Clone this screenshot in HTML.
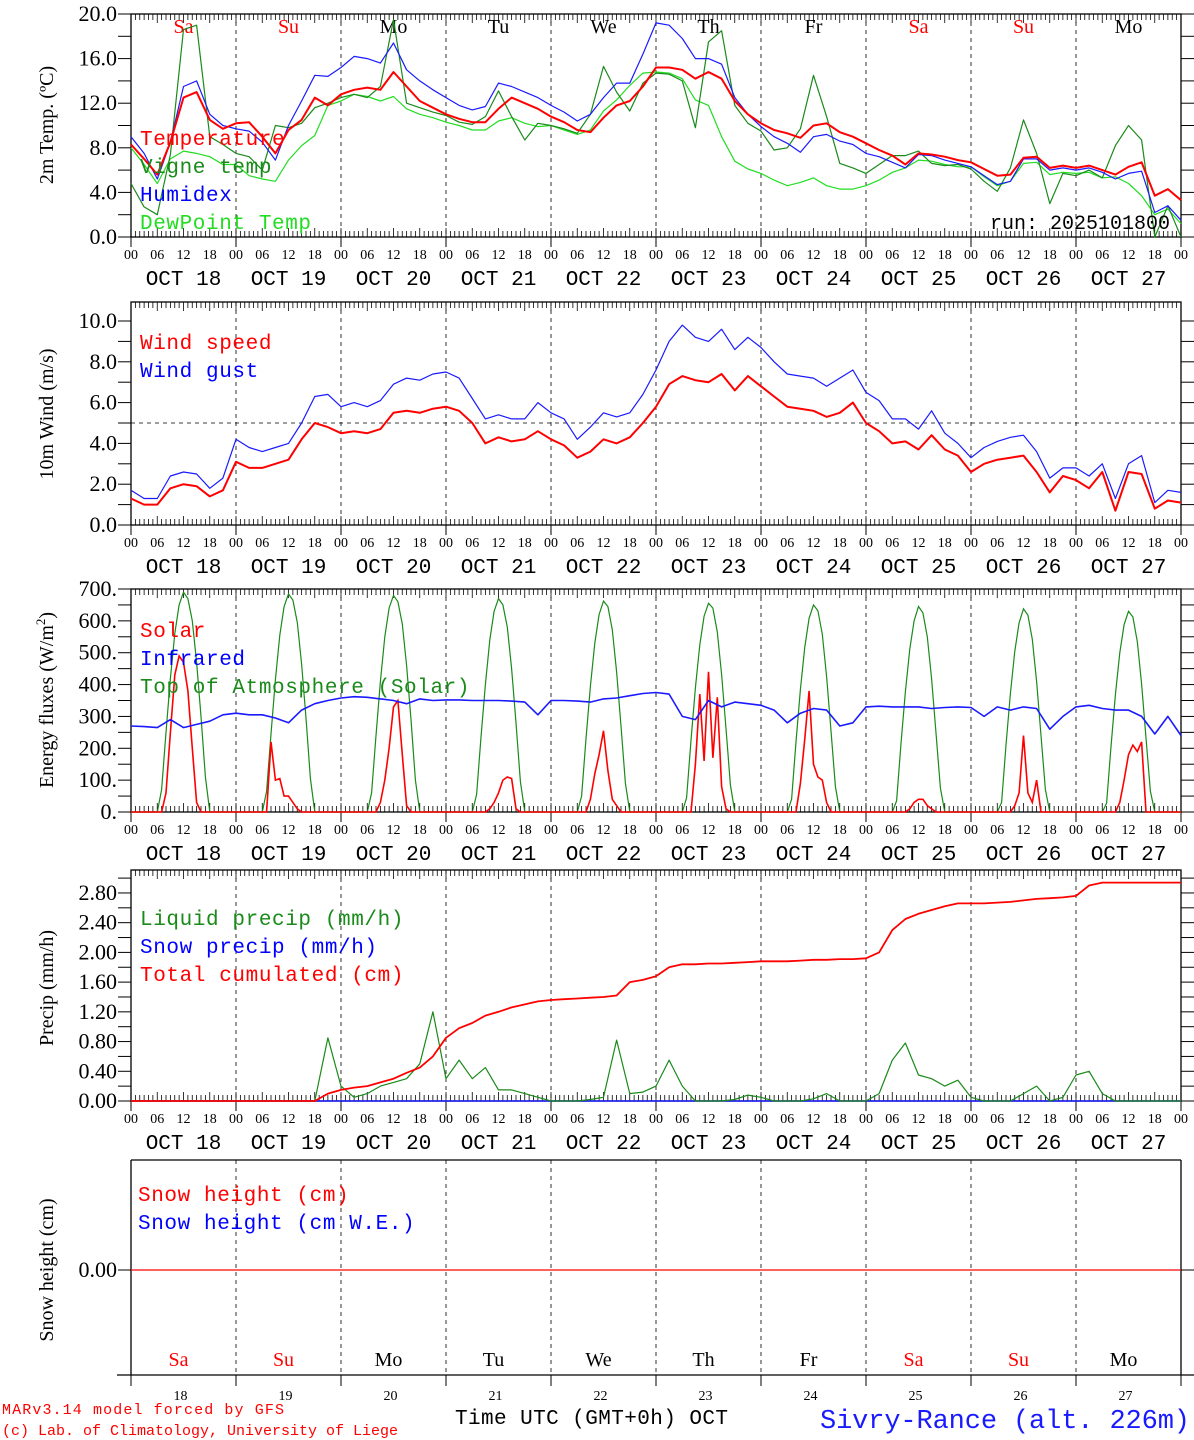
<!DOCTYPE html>
<html><head><meta charset="utf-8"><style>
html,body{margin:0;padding:0;background:#fff}
svg{display:block}
text{font-family:"Liberation Serif",serif}
.m{font-family:"Liberation Mono",monospace}
</style></head><body>
<svg id="c" width="1194" height="1440" viewBox="0 0 1194 1440" xmlns="http://www.w3.org/2000/svg"></svg>
<script>
// ---- data (3-hourly from Oct 18 00 UTC to Oct 28 00 UTC, 81 points) ----
const days = ["18","19","20","21","22","23","24","25","26","27"];
const dayNames = ["Sa","Su","Mo","Tu","We","Th","Fr","Sa","Su","Mo"];
const dayColors = ["#f00","#f00","#000","#000","#000","#000","#000","#f00","#f00","#000"];
const hourLabels = ["00","06","12","18"];
const tempVals = [8.3,7,5.6,8.5,12.5,13,10.5,9.7, 10.2,10.3,9,7.5,9.6,10.5,12.5,11.8, 12.8,13.2,13.4,13.2,14.8,13.5,12.2,11.6, 11,10.6,10.3,10.3,11.5,12.5,12,11.5, 10.8,10.3,9.6,9.4,10.7,11.8,12.2,13.5, 15.2,15.2,15,14.2,14.8,14.2,12.2,11, 10.2,9.6,9.3,8.9,10,10.2,9.4,9, 8.4,7.8,7.3,6.5,7.5,7.4,7.2,6.9, 6.7,6.1,5.5,5.6,7.1,7.2,6.2,6.4, 6.2,6.4,6,5.6,6.3,6.7,3.7,4.3, 3.3];
const humidexVals = [9,7.5,5.2,8.5,13.5,14,11,10, 9.7,9.5,8.5,6.9,10,12.2,14.5,14.4, 15.2,16.2,16,15.6,17.4,15,14,13.2, 12.5,11.8,11.4,11.7,13.8,13.5,13,12.5, 11.8,11.2,10.4,11,12.5,13.8,13.8,16.4, 19.2,19,17.8,16,16,15.5,12.5,11, 9.9,9,8.4,7.6,9,9.2,8.6,8.3, 7.5,7.2,6.7,6.2,7.4,7.3,6.9,6.6, 6.3,5.5,4.7,5,7,7,6,6.2, 6,6.2,5.8,5.2,5.7,5.9,2.2,2.8, 1.5];
const dewVals = [8,6.5,4.8,7,7.7,7.5,7.2,6.5, 6.5,5.5,5.2,5,6.9,8.2,9.1,11.8, 12.2,12.8,12.6,12.2,12.6,11.5,11,10.7, 10.3,10,9.6,9.6,10.4,10.7,10.2,9.9, 10,9.6,9.2,9.6,11.3,12.3,13.6,14.7, 14.8,14.7,14.2,12.3,11.8,9,6.8,6.1, 5.7,5.1,4.6,4.9,5.3,4.6,4.3,4.3, 4.6,5.1,5.8,6.2,6.9,6.8,6.5,6.3, 6.3,5.4,4.6,5,6.6,6.7,5.6,5.8, 5.7,5.8,5.3,5.4,4.8,3.7,2,2.5, 1.2];
const vigneVals = [4.8,2.7,2,7.4,18.6,19,9,8.3, 7.5,7.2,6,10,9.8,10.2,11.6,12, 12.5,12.8,12.5,13.5,19.5,12,11.6,11.2, 10.9,10.3,10.1,10.8,13.1,10.8,8.7,10.2, 10,9.7,9.3,11,15.3,13,11.3,13.8, 14.7,14.6,14,9.8,17.5,18.5,11.8,10.2, 9.5,7.8,8,9.7,14.5,10.8,6.6,6.2, 5.7,6.5,7.3,7.3,7.7,6.6,6.4,6.5, 6.1,5,4.1,6.2,10.5,7.5,3,5.7, 5.5,6,5.3,8.2,10,8.7,0,2.8, 0];
const windVals = [1.3,1,1,1.8,2,1.9,1.4,1.7, 3.1,2.8,2.8,3,3.2,4.2,5,4.8, 4.5,4.6,4.5,4.7,5.5,5.6,5.5,5.7, 5.8,5.6,5,4,4.3,4.1,4.2,4.6, 4.2,3.9,3.3,3.6,4.2,4,4.3,5, 5.8,6.9,7.3,7.1,7,7.4,6.6,7.3, 6.8,6.3,5.8,5.7,5.6,5.3,5.5,6, 5,4.6,4,4.1,3.7,4.4,3.7,3.4, 2.6,3,3.2,3.3,3.4,2.6,1.6,2.4, 2.2,1.8,2.6,0.7,2.6,2.5,0.8,1.2, 1.1];
const gustVals = [1.7,1.3,1.3,2.4,2.6,2.5,1.8,2.3, 4.2,3.8,3.6,3.8,4,5,6.3,6.4, 5.8,6,5.8,6.1,6.9,7.2,7.1,7.4, 7.5,7.2,6.2,5.2,5.4,5.2,5.2,6, 5.5,5.2,4.2,4.8,5.5,5.3,5.5,6.4, 7.6,9,9.8,9.2,9,9.6,8.6,9.2, 8.7,8,7.4,7.3,7.2,6.8,7.2,7.6, 6.5,6.1,5.2,5.2,4.7,5.6,4.5,4, 3.3,3.8,4.1,4.3,4.4,3.6,2.3,2.8, 2.8,2.4,3,1.3,3,3.4,1.1,1.7, 1.6];
const irVals = [270,268,265,290,265,275,285,305, 310,305,305,295,280,320,340,350, 358,362,360,355,350,340,355,350, 352,352,350,350,350,348,345,305, 350,350,348,345,355,358,365,372, 375,370,300,290,350,330,345,340, 335,320,280,310,325,320,270,280, 330,332,330,330,330,325,328,330, 328,300,330,320,330,325,260,300, 330,335,325,320,320,300,245,300, 240];
const liquidVals = [0,0,0,0,0,0,0,0, 0,0,0,0,0,0,0,0.85, 0.2,0.05,0.1,0.2,0.25,0.3,0.5,1.2, 0.3,0.55,0.3,0.45,0.15,0.15,0.1,0.05, 0,0,0,0.02,0.05,0.82,0.1,0.12, 0.2,0.55,0.2,0,0,0,0.02,0.08, 0.05,0,0,0,0.03,0.1,0,0, 0,0.1,0.55,0.78,0.35,0.3,0.2,0.28, 0.05,0,0,0,0.1,0.2,0,0.05, 0.35,0.4,0.1,0,0,0,0,0, 0];
const cumulVals = [0,0,0,0,0,0,0,0, 0,0,0,0,0,0,0,0.1, 0.15,0.18,0.2,0.25,0.3,0.38,0.45,0.6, 0.85,0.98,1.05,1.15,1.2,1.26,1.3,1.34, 1.36,1.37,1.38,1.39,1.4,1.42,1.6,1.63, 1.68,1.8,1.84,1.84,1.85,1.85,1.86,1.87, 1.88,1.88,1.88,1.89,1.9,1.9,1.91,1.91, 1.92,2.0,2.3,2.45,2.52,2.57,2.62,2.66, 2.66,2.66,2.67,2.68,2.7,2.72,2.73,2.74, 2.76,2.9,2.94,2.94,2.94,2.94,2.94,2.94, 2.94];
// hourly daytime arrays (hours 06..18) for each day
const toaDay = [
[0,70,250,420,560,650,690,670,600,470,300,110,0],
[0,65,245,415,555,645,685,665,595,465,295,105,0],
[0,60,240,410,550,640,680,660,590,460,290,100,0],
[0,55,235,400,540,630,670,650,580,450,280,95,0],
[0,50,230,395,530,620,662,645,572,440,270,90,0],
[0,45,225,390,525,615,655,640,565,432,262,85,0],
[0,40,220,385,518,608,650,632,558,425,255,80,0],
[0,35,215,378,512,600,645,625,550,418,248,75,0],
[0,30,210,372,505,594,638,618,542,410,240,70,0],
[0,28,205,368,500,588,630,612,535,402,232,65,0]];
const solarDay = [
[0,0,60,250,430,490,470,380,200,30,0,0,0],
[0,0,220,100,105,50,50,30,10,0,0,0,0],
[0,0,0,30,100,200,330,350,180,20,0,0,0],
[0,0,0,0,10,30,60,100,110,105,10,0,0],
[0,0,0,40,120,180,255,130,40,20,0,0,0],
[0,0,0,150,370,160,440,170,360,80,10,0,0],
[0,0,0,90,230,380,150,110,100,30,0,0,0],
[0,0,0,0,10,30,40,40,20,10,0,0,0],
[0,0,0,0,20,60,240,60,30,100,0,0,0],
[0,0,0,0,30,100,180,210,190,220,0,0,0]];
const snowHeight = [0,0];

// ---- layout ----
const X0=131, X1=1181, NS="http://www.w3.org/2000/svg";
const svg=document.getElementById('c');
const xAt=h=>X0+(X1-X0)*h/240;
function el(tag,attrs,parent){const e=document.createElementNS(NS,tag);for(const k in attrs)e.setAttribute(k,attrs[k]);(parent||svg).appendChild(e);return e;}
function txt(s,x,y,attrs,parent){const t=el('text',Object.assign({x:x,y:y},attrs),parent);t.textContent=s;return t;}
function panel(top,bottom,ymax,name){
  const g=el('g',{});
  
  
  return {g,top,bottom,y:v=>bottom-(bottom-top)*v/ymax};
}
function frame(p){
  el('rect',{x:X0,y:p.top,width:X1-X0,height:p.bottom-p.top,fill:'none',stroke:'#000','stroke-width':1.3},p.g);
  for(let d=1;d<10;d++){const x=xAt(d*24);el('line',{x1:x,x2:x,y1:p.top,y2:p.bottom,stroke:'#000','stroke-dasharray':'4,4','stroke-width':0.8},p.g);}
}
function hourTicks(p){
  for(let h=0;h<=240;h++){const x=xAt(h);const L=(h%6==0)?9:6;
    el('line',{x1:x,x2:x,y1:p.top,y2:p.top+L,stroke:'#000','stroke-width':0.8},p.g);
    el('line',{x1:x,x2:x,y1:p.bottom,y2:p.bottom-L,stroke:'#000','stroke-width':0.8},p.g);}
  for(let d=0;d<=10;d++){const x=xAt(d*24);el('line',{x1:x,x2:x,y1:p.bottom,y2:p.bottom+10,stroke:'#000'},p.g);}
}
function timeLabels(p){
  for(let d=0;d<10;d++){
    hourLabels.forEach((hl,i)=>{const t=txt(hl,xAt(d*24+i*6),p.bottom+22,{'font-size':14,'text-anchor':'middle'},p.g);
      });
    const t=txt('OCT '+days[d],xAt(d*24+12),p.bottom+48,{'font-size':21,'text-anchor':'middle','class':'m'},p.g);
    
  }
  txt('00',X1,p.bottom+22,{'font-size':14,'text-anchor':'middle'},p.g);
}
function yAxis(p,ticks,labels,minor,title,titleY){
  minor.concat(ticks).forEach(v=>{const y=p.y(v);el('line',{x1:X0-13,x2:X0,y1:y,y2:y,stroke:'#000'},p.g);el('line',{x1:X1,x2:X1+13,y1:y,y2:y,stroke:'#000'},p.g);});
  ticks.forEach((v,i)=>{const y=p.y(v);
    const t=txt(labels[i],X0-14,y+7,{'font-size':22,'text-anchor':'end'},p.g);
    });
  const t=txt(title,0,0,{'font-size':20,'text-anchor':'middle',transform:`translate(53,${titleY}) rotate(-90)`},p.g);
  
}
function line3h(p,vals,color,w,name){
  const pts=vals.map((v,i)=>xAt(i*3).toFixed(1)+','+p.y(v).toFixed(1)).join(' ');
  const l=el('polyline',{points:pts,fill:'none',stroke:color,'stroke-width':w,'stroke-linejoin':'round'},p.g);
  
}
function lineDay(p,arr,color,w,name){
  const pts=[];
  pts.push([xAt(0),p.y(0)]);
  arr.forEach((dv,d)=>dv.forEach((v,i)=>pts.push([xAt(d*24+6+i),p.y(v)])));
  pts.push([xAt(240),p.y(0)]);
  const l=el('polyline',{points:pts.map(q=>q[0].toFixed(1)+','+q[1].toFixed(1)).join(' '),fill:'none',stroke:color,'stroke-width':w},p.g);
  
}
function legend(p,items,x,y0,dy){
  items.forEach((it,i)=>{const t=txt(it[0],x,y0+i*dy,{'font-size':21,fill:it[1],'class':'m','letter-spacing':0.6},p.g);
    });
}

// Panel 1: temperature
const p1=panel(14,237,20,'temperature-panel');
frame(p1);hourTicks(p1);timeLabels(p1);
yAxis(p1,[0,4,8,12,16,20],["0.0","4.0","8.0","12.0","16.0","20.0"],[2,6,10,14,18],"2m Temp. (\u00BAC)",125);
for(let d=0;d<10;d++){const t=txt(dayNames[d],xAt(d*24+12),33,{'font-size':20,'text-anchor':'middle',fill:dayColors[d]},p1.g);}
line3h(p1,dewVals,'#22dd22',1.2,'dewpoint-line');
line3h(p1,vigneVals,'#1a8a1a',1.2,'vigne-temp-line');
line3h(p1,humidexVals,'#1a1aff',1.2,'humidex-line');
line3h(p1,tempVals,'#ff0000',2,'temperature-line');
legend(p1,[["Temperature","#f00"],["Vigne temp","#1a8a1a"],["Humidex","#00f"],["DewPoint Temp","#22dd22"]],140,145,28);
txt('run: 2025101800',990,229,{'font-size':20,'class':'m'},p1.g);

// Panel 2: wind
const p2=panel(302,525,223/20.4,'wind-panel');
frame(p2);hourTicks(p2);timeLabels(p2);
yAxis(p2,[0,2,4,6,8,10],["0.0","2.0","4.0","6.0","8.0","10.0"],[1,3,5,7,9],"10m Wind (m/s)",414);
el('line',{x1:X0,x2:X1,y1:p2.y(5),y2:p2.y(5),stroke:'#000','stroke-dasharray':'4,4','stroke-width':0.8},p2.g);
line3h(p2,gustVals,'#1a1aff',1.2,'wind-gust-line');
line3h(p2,windVals,'#ff0000',2,'wind-speed-line');
legend(p2,[["Wind speed","#f00"],["Wind gust","#00f"]],140,349,28);

// Panel 3: energy
const p3=panel(589,812,700,'energy-panel');
frame(p3);hourTicks(p3);timeLabels(p3);
yAxis(p3,[0,100,200,300,400,500,600,700],["0.","100.","200.","300.","400.","500.","600.","700."],[50,150,250,350,450,550,650],"",700);
{const t=el('text',{x:0,y:0,'font-size':20,'text-anchor':'middle',transform:'translate(53,700) rotate(-90)'},p3.g);t.innerHTML='Energy fluxes (W/m<tspan dy="-8" font-size="13">2</tspan><tspan dy="8">)</tspan>';}
lineDay(p3,toaDay,'#1a8a1a',1.2,'toa-solar-line');
lineDay(p3,solarDay,'#ff0000',1.6,'solar-line');
line3h(p3,irVals,'#1a1aff',1.6,'infrared-line');
legend(p3,[["Solar","#f00"],["Infrared","#00f"],["Top of Atmosphere (Solar)","#1a8a1a"]],140,637,28);

// Panel 4: precip
const p4=panel(870,1101,231/74.3,'precip-panel');
frame(p4);hourTicks(p4);timeLabels(p4);
yAxis(p4,[0,0.4,0.8,1.2,1.6,2.0,2.4,2.8],["0.00","0.40","0.80","1.20","1.60","2.00","2.40","2.80"],[0.2,0.6,1.0,1.4,1.8,2.2,2.6,3.0],"Precip (mm/h)",988);
el('line',{x1:X0,x2:X1,y1:p4.y(0),y2:p4.y(0),stroke:'#1a1aff','stroke-width':1.6,},p4.g);
line3h(p4,liquidVals,'#1a8a1a',1.2,'liquid-precip-line');
line3h(p4,cumulVals,'#ff0000',1.8,'cumulated-precip-line');
legend(p4,[["Liquid precip (mm/h)","#1a8a1a"],["Snow precip (mm/h)","#00f"],["Total cumulated (cm)","#f00"]],140,925,28);

// Panel 5: snow height
const p5=panel(1160,1375,2,'snow-panel');
el('line',{x1:X0,x2:X1,y1:1160,y2:1160,stroke:'#000','stroke-width':1.3},p5.g);
el('line',{x1:X0,x2:X0,y1:1160,y2:1375,stroke:'#000','stroke-width':1.3},p5.g);
el('line',{x1:X1,x2:X1,y1:1160,y2:1375,stroke:'#000','stroke-width':1.3},p5.g);
el('line',{x1:X0-14,x2:X1+14,y1:1375,y2:1375,stroke:'#000','stroke-width':1.3},p5.g);
for(let d=1;d<10;d++){const x=xAt(d*24);el('line',{x1:x,x2:x,y1:1160,y2:1375,stroke:'#000','stroke-dasharray':'4,4','stroke-width':0.8},p5.g);}
for(let d=0;d<=10;d++){const x=xAt(d*24);el('line',{x1:x,x2:x,y1:1375,y2:1386,stroke:'#000'},p5.g);}
el('line',{x1:X0-13,x2:X0,y1:1270,y2:1270,stroke:'#000'},p5.g);
el('line',{x1:X1,x2:X1+13,y1:1270,y2:1270,stroke:'#000'},p5.g);
txt('0.00',X0-14,1277,{'font-size':22,'text-anchor':'end'},p5.g);
{const t=txt('Snow height (cm)',0,0,{'font-size':20,'text-anchor':'middle',transform:'translate(53,1270) rotate(-90)'},p5.g);}
{const l=el('line',{x1:X0,x2:X1,y1:1270+snowHeight[0],y2:1270+snowHeight[1],stroke:'#ff0000','stroke-width':1.3},p5.g);}
legend(p5,[["Snow height (cm)","#f00"],["Snow height (cm W.E.)","#00f"]],138,1201,28);
for(let d=0;d<10;d++){
  const t=txt(dayNames[d],xAt(d*24+12)-5,1366,{'font-size':20,'text-anchor':'middle',fill:dayColors[d]},p5.g);
  const n=txt(days[d],xAt(d*24+12)-3,1400,{'font-size':14,'text-anchor':'middle'},p5.g);
}
txt('Time UTC (GMT+0h) OCT',455,1424,{'font-size':21,'class':'m','textLength':273});
txt('MARv3.14 model forced by GFS',2,1414,{'font-size':15,fill:'#f00','class':'m','textLength':282});
txt('(c) Lab. of Climatology, University of Liege',2,1435,{'font-size':15,fill:'#f00','class':'m','textLength':396});
txt('Sivry-Rance (alt. 226m)',820,1428,{'font-size':27,fill:'#1a1aff','class':'m','textLength':370});
[p1,p2,p3,p4,p5].forEach(p=>svg.appendChild(p.g));
</script>
</body></html>
